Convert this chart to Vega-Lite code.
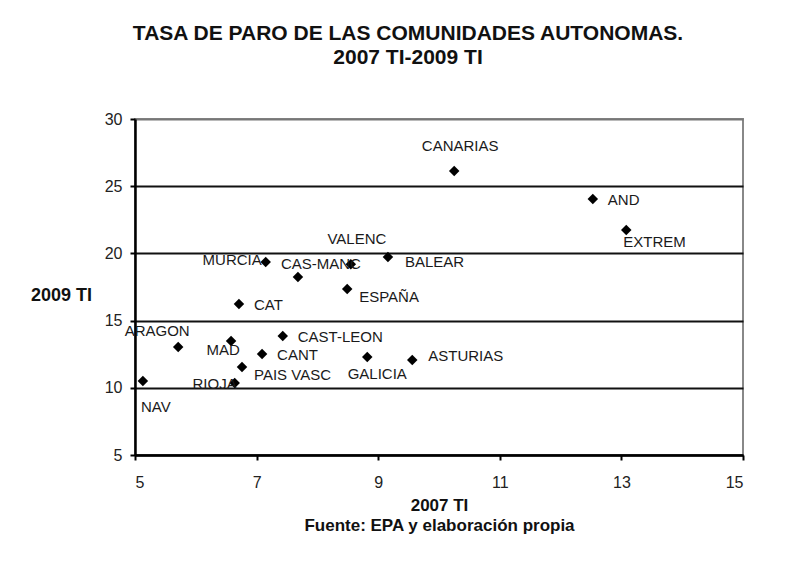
{
  "$schema": "https://vega.github.io/schema/vega-lite/v6.json",
  "width": 608,
  "height": 336,
  "autosize": "none",
  "padding": {"left": 135, "top": 119, "right": 51, "bottom": 114},
  "background": "white",
  "config": {
    "font": "Liberation Sans",
    "view": {"stroke": "#888888", "strokeWidth": 2},
    "axis": {"labelFont": "Liberation Sans", "titleFont": "Liberation Sans"}
  },
  "title": {
    "text": ["TASA DE PARO DE LAS COMUNIDADES AUTONOMAS.", "2007 TI-2009 TI"],
    "fontSize": 21,
    "fontWeight": "bold",
    "font": "Liberation Sans",
    "color": "#111111",
    "anchor": "middle",
    "dx": -31,
    "lineHeight": 24,
    "offset": 43
  },
  "data": {
    "values": [
      {"name": "CANARIAS", "x2007": 10.25, "y2009": 26.13},
      {"name": "AND", "x2007": 12.53, "y2009": 24.05},
      {"name": "EXTREM", "x2007": 13.08, "y2009": 21.74},
      {"name": "BALEAR", "x2007": 9.16, "y2009": 19.73},
      {"name": "VALENC", "x2007": 8.55, "y2009": 19.2},
      {"name": "CAS-MANC", "x2007": 7.68, "y2009": 18.24},
      {"name": "MURCIA", "x2007": 7.15, "y2009": 19.36},
      {"name": "ESPAÑA", "x2007": 8.49, "y2009": 17.35},
      {"name": "CAT", "x2007": 6.71, "y2009": 16.24},
      {"name": "ARAGON", "x2007": 5.71, "y2009": 13.04},
      {"name": "MAD", "x2007": 6.58, "y2009": 13.48},
      {"name": "CAST-LEON", "x2007": 7.43, "y2009": 13.85},
      {"name": "CANT", "x2007": 7.09, "y2009": 12.51},
      {"name": "PAIS VASC", "x2007": 6.76, "y2009": 11.55},
      {"name": "RIOJA", "x2007": 6.64, "y2009": 10.36},
      {"name": "NAV", "x2007": 5.13, "y2009": 10.5},
      {"name": "GALICIA", "x2007": 8.82, "y2009": 12.29},
      {"name": "ASTURIAS", "x2007": 9.56, "y2009": 12.07}
    ]
  },
  "encoding": {
    "x": {
      "field": "x2007", "type": "quantitative",
      "scale": {"domain": [5, 15], "nice": false, "zero": false},
      "axis": {
        "values": [5, 7, 9, 11, 13, 15],
        "grid": false,
        "domainColor": "#000000", "domainWidth": 2.5,
        "tickColor": "#000000", "tickWidth": 2, "tickSize": 5,
        "labelFontSize": 16, "labelColor": "#222222", "labelPadding": 14,
        "title": ["2007 TI", "Fuente: EPA y elaboración propia"],
        "titleFontSize": 17, "titleFontWeight": "bold", "titleColor": "#111111",
        "titleLineHeight": 20, "titlePadding": 7
      }
    },
    "y": {
      "field": "y2009", "type": "quantitative",
      "scale": {"domain": [5, 30], "nice": false, "zero": false},
      "axis": {
        "values": [5, 10, 15, 20, 25, 30],
        "grid": true,
        "gridColor": {"condition": {"test": "datum.value === 30", "value": "#777777"}, "value": "#111111"},
        "gridWidth": 2,
        "domainColor": "#000000", "domainWidth": 2.5,
        "tickColor": "#000000", "tickWidth": 2, "tickSize": 5,
        "labelFontSize": 16, "labelColor": "#222222", "labelPadding": 8,
        "title": "2009 TI",
        "titleFontSize": 18, "titleFontWeight": "bold", "titleColor": "#111111",
        "titleAngle": 0, "titleAlign": "center", "titleBaseline": "middle",
        "titleX": -74, "titleY": 176
      }
    }
  },
  "layer": [
    {"mark": {"type": "point", "shape": "diamond", "filled": true, "color": "#000000", "size": 110, "opacity": 1}},
    {
      "transform": [{"filter": {"field": "name", "oneOf": ["AND", "CAT", "CAST-LEON", "CANT"]}}],
      "mark": {"type": "text", "align": "left", "baseline": "middle", "dx": 15, "dy": 1, "fontSize": 15, "color": "#1a1a1a"},
      "encoding": {"text": {"field": "name"}}
    },
    {
      "transform": [{"filter": {"field": "name", "oneOf": ["ASTURIAS"]}}],
      "mark": {"type": "text", "align": "left", "baseline": "middle", "dx": 16, "dy": -4, "fontSize": 15, "color": "#1a1a1a"},
      "encoding": {"text": {"field": "name"}}
    },
    {
      "transform": [{"filter": {"field": "name", "oneOf": ["BALEAR"]}}],
      "mark": {"type": "text", "align": "left", "baseline": "middle", "dx": 17, "dy": 5, "fontSize": 15, "color": "#1a1a1a"},
      "encoding": {"text": {"field": "name"}}
    },
    {
      "transform": [{"filter": {"field": "name", "oneOf": ["ESPAÑA", "PAIS VASC"]}}],
      "mark": {"type": "text", "align": "left", "baseline": "middle", "dx": 12, "dy": 8, "fontSize": 15, "color": "#1a1a1a"},
      "encoding": {"text": {"field": "name"}}
    },
    {
      "transform": [{"filter": {"field": "name", "oneOf": ["MURCIA"]}}],
      "mark": {"type": "text", "align": "right", "baseline": "middle", "dx": -4, "dy": -2, "fontSize": 15, "color": "#1a1a1a"},
      "encoding": {"text": {"field": "name"}}
    },
    {
      "transform": [{"filter": {"field": "name", "oneOf": ["RIOJA"]}}],
      "mark": {"type": "text", "align": "right", "baseline": "middle", "dx": 2, "dy": 1, "fontSize": 15, "color": "#1a1a1a"},
      "encoding": {"text": {"field": "name"}}
    },
    {
      "transform": [{"filter": {"field": "name", "oneOf": ["CANARIAS", "VALENC"]}}],
      "mark": {"type": "text", "align": "center", "baseline": "middle", "dx": 6, "dy": -25, "fontSize": 15, "color": "#1a1a1a"},
      "encoding": {"text": {"field": "name"}}
    },
    {
      "transform": [{"filter": {"field": "name", "oneOf": ["CAS-MANC"]}}],
      "mark": {"type": "text", "align": "center", "baseline": "middle", "dx": 23, "dy": -13, "fontSize": 15, "color": "#1a1a1a"},
      "encoding": {"text": {"field": "name"}}
    },
    {
      "transform": [{"filter": {"field": "name", "oneOf": ["ARAGON"]}}],
      "mark": {"type": "text", "align": "center", "baseline": "middle", "dx": -21, "dy": -16, "fontSize": 15, "color": "#1a1a1a"},
      "encoding": {"text": {"field": "name"}}
    },
    {
      "transform": [{"filter": {"field": "name", "oneOf": ["MAD"]}}],
      "mark": {"type": "text", "align": "center", "baseline": "middle", "dx": -8, "dy": 9, "fontSize": 15, "color": "#1a1a1a"},
      "encoding": {"text": {"field": "name"}}
    },
    {
      "transform": [{"filter": {"field": "name", "oneOf": ["GALICIA"]}}],
      "mark": {"type": "text", "align": "center", "baseline": "middle", "dx": 10, "dy": 17, "fontSize": 15, "color": "#1a1a1a"},
      "encoding": {"text": {"field": "name"}}
    },
    {
      "transform": [{"filter": {"field": "name", "oneOf": ["EXTREM"]}}],
      "mark": {"type": "text", "align": "left", "baseline": "middle", "dx": -3, "dy": 12, "fontSize": 15, "color": "#1a1a1a"},
      "encoding": {"text": {"field": "name"}}
    },
    {
      "transform": [{"filter": {"field": "name", "oneOf": ["NAV"]}}],
      "mark": {"type": "text", "align": "left", "baseline": "middle", "dx": -2, "dy": 26, "fontSize": 15, "color": "#1a1a1a"},
      "encoding": {"text": {"field": "name"}}
    }
  ]
}
